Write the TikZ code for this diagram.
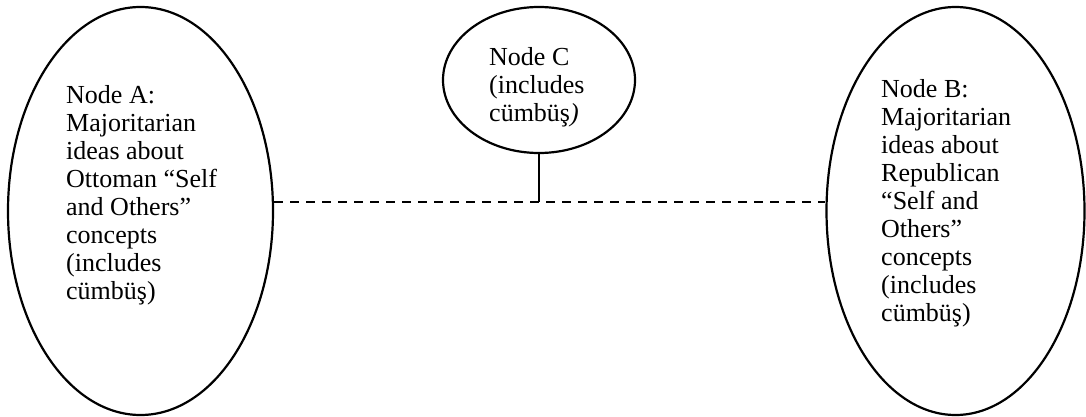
\documentclass[tikz,border=0pt]{standalone}
\usepackage{fontspec}
\setmainfont{Liberation Serif}
\usetikzlibrary{shapes.geometric}

\begin{document}
\begin{tikzpicture}[x=1pt,y=-1pt,
  oval/.style={draw, ellipse, line width=2.2pt, inner sep=0pt},
  caption/.style={anchor=north west, inner sep=0pt, align=left,
                  font=\fontsize{26}{28}\selectfont},
  link/.style={line width=2.2pt, dash pattern=on 9pt off 7pt},
  stem/.style={line width=2.2pt}]
  \useasboundingbox (0,0) rectangle (1086,417);

  % the three ovals
  \node[oval, minimum width=265pt, minimum height=408pt] (A) at (140.5,211) {};
  \node[oval, minimum width=258pt, minimum height=408pt] (B) at (955.5,211) {};
  \node[oval, minimum width=192pt, minimum height=146pt] (C) at (539,80) {};

  % their texts
  \node[caption] (tA) at (66,85) {Node A:\\Majoritarian\\ideas about\\Ottoman “Self\\and Others”\\concepts\\(includes\\cümbüş)};
  \node[caption] (tB) at (881,79) {Node B:\\Majoritarian\\ideas about\\Republican\\“Self and\\Others”\\concepts\\(includes\\cümbüş)};
  \node[caption] (tC) at (489,47) {Node C\\(includes\\cümbüş\textit{)}};

  % dashed link between A and B, with C hanging above it
  \coordinate (lA) at ([yshift=9pt]A.east);
  \coordinate (lB) at ([yshift=9pt]B.west);
  \draw[link] (lA) -- (lB);
  \coordinate (J) at (C.south |- lA);
  \draw[stem] (C.south) -- (J);
\end{tikzpicture}
\end{document}
